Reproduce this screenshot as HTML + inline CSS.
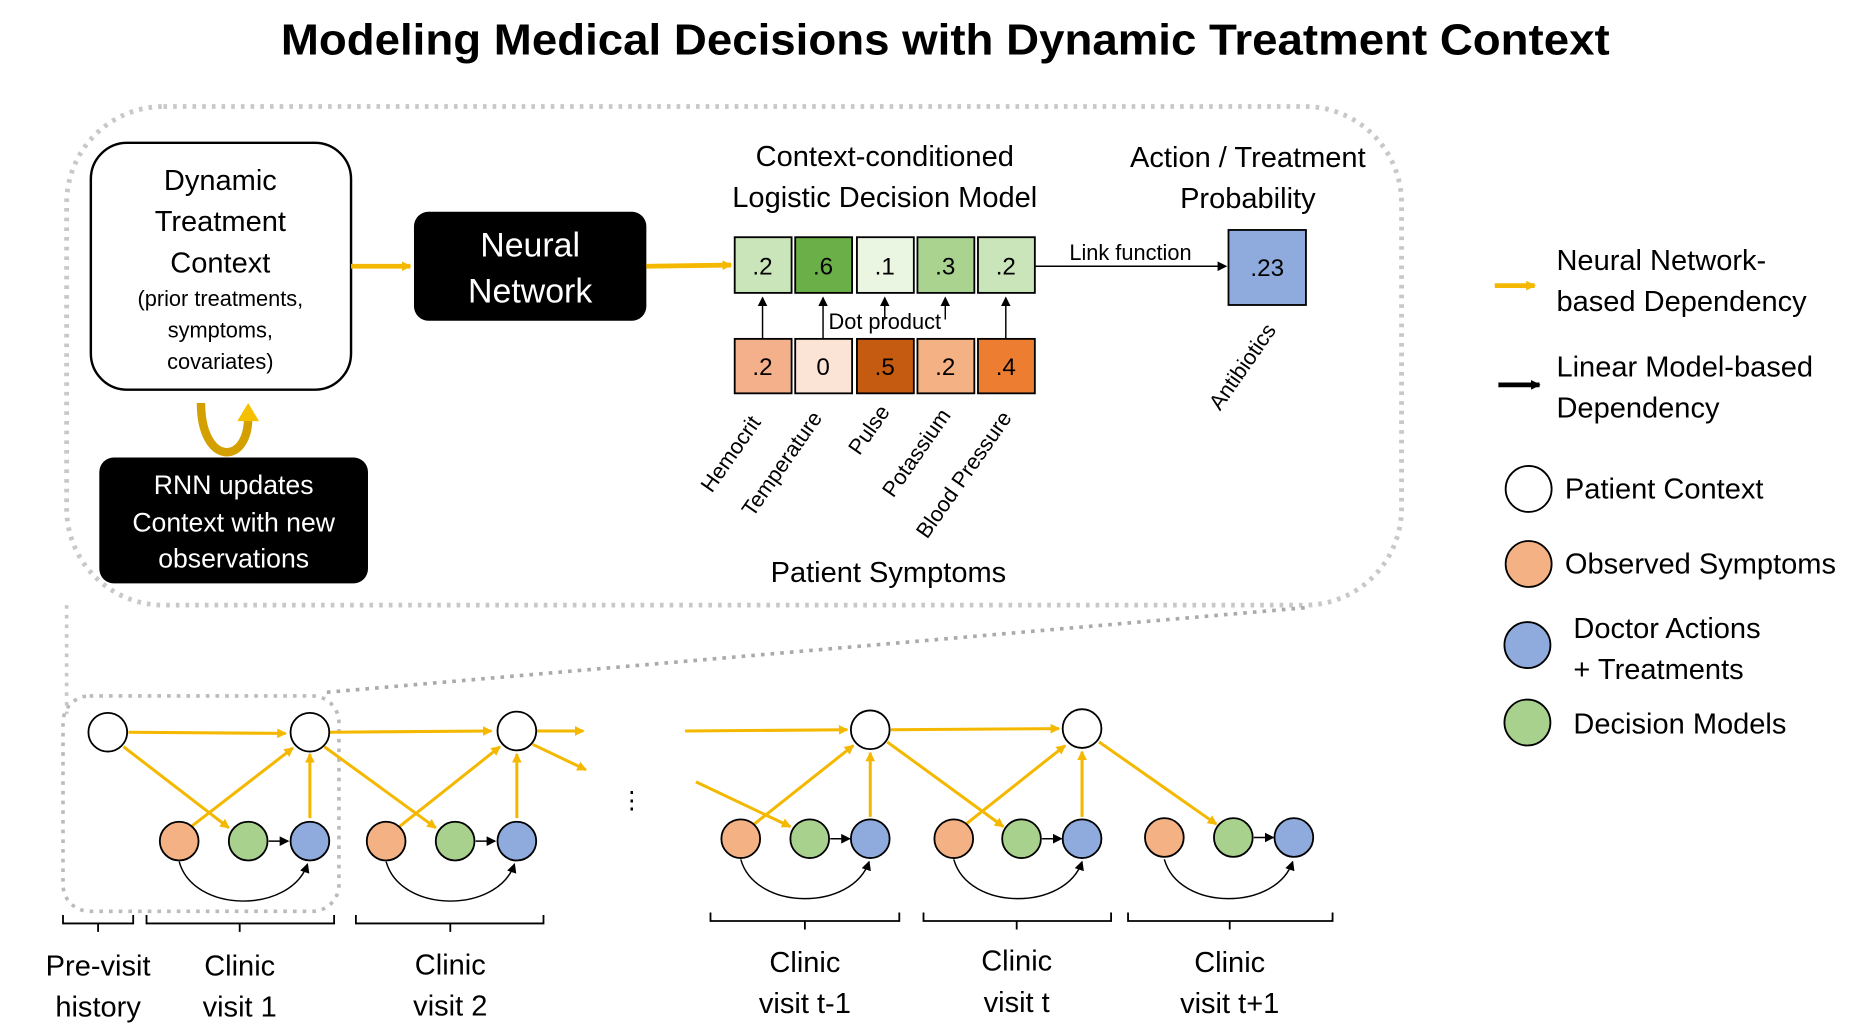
<!DOCTYPE html>
<html><head><meta charset="utf-8"><style>
html,body{margin:0;padding:0;background:#fff;}
svg{display:block;}
text{font-family:"Liberation Sans",sans-serif;fill:#000;}
</style></head><body>
<svg width="1870" height="1028" viewBox="0 0 1545 849.4" xmlns="http://www.w3.org/2000/svg">
<defs>
<marker id="ya" markerWidth="8" markerHeight="8" refX="7" refY="4" orient="auto" markerUnits="userSpaceOnUse"><path d="M0,0 L8,4 L0,8 z" fill="#f5b800"/></marker>
<marker id="ba" markerWidth="8" markerHeight="8" refX="7" refY="4" orient="auto" markerUnits="userSpaceOnUse"><path d="M0,0 L8,4 L0,8 z" fill="#000"/></marker>
</defs>
<text x="781" y="45" font-size="36" font-weight="bold" text-anchor="middle" textLength="1098" lengthAdjust="spacingAndGlyphs">Modeling Medical Decisions with Dynamic Treatment Context</text>

<rect x="55" y="88" width="1103" height="412" rx="80" fill="none" stroke="#c8c8c8" stroke-width="4" stroke-dasharray="3,5"/>
<line x1="55" y1="500" x2="55" y2="590" stroke="#c8c8c8" stroke-width="3" stroke-dasharray="3,5"/>
<line x1="270" y1="572" x2="1080" y2="502" stroke="#aaa" stroke-width="3" stroke-dasharray="3,5"/>

<rect x="75" y="118" width="215" height="204" rx="30" fill="#fff" stroke="#000" stroke-width="2"/>
<g font-size="24" text-anchor="middle"><text x="182" y="157">Dynamic</text><text x="182" y="191">Treatment</text><text x="182" y="225">Context</text></g>
<g font-size="18" text-anchor="middle"><text x="182" y="253">(prior treatments,</text><text x="182" y="279">symptoms,</text><text x="182" y="305">covariates)</text></g>

<rect x="342" y="175" width="192" height="90" rx="12" fill="#000"/>
<text x="438" y="212" font-size="28" text-anchor="middle" style="fill:#fff">Neural</text>
<text x="438" y="250" font-size="28" text-anchor="middle" style="fill:#fff">Network</text>
<line x1="290" y1="220" x2="339" y2="220" stroke="#f5b800" stroke-width="4" marker-end="url(#ya)"/>
<line x1="534" y1="220" x2="604" y2="219" stroke="#f5b800" stroke-width="4" marker-end="url(#ya)"/>

<rect x="82" y="378" width="222" height="104" rx="12" fill="#000"/>
<g font-size="22" text-anchor="middle" style="fill:#fff"><text x="193" y="408" style="fill:#fff">RNN updates</text><text x="193" y="439" style="fill:#fff">Context with new</text><text x="193" y="469" style="fill:#fff">observations</text></g>
<path d="M166,333 C166,385 205,385 205,345" fill="none" stroke="#d4a000" stroke-width="7"/>
<path d="M196,348 L205,333 L214,348 z" fill="#f5c000"/>

<text x="731" y="137" font-size="24" text-anchor="middle">Context-conditioned</text>
<text x="731" y="171" font-size="24" text-anchor="middle">Logistic Decision Model</text>
<text x="1031" y="138" font-size="24" text-anchor="middle">Action / Treatment</text>
<text x="1031" y="172" font-size="24" text-anchor="middle">Probability</text>

<g stroke="#000" stroke-width="1.5" font-size="20">
<rect x="607" y="196" width="47" height="46" fill="#c9e5b9"/>
<rect x="657" y="196" width="47" height="46" fill="#6aaf47"/>
<rect x="708" y="196" width="47" height="46" fill="#eaf5e2"/>
<rect x="758" y="196" width="47" height="46" fill="#a9d38f"/>
<rect x="808" y="196" width="47" height="46" fill="#c9e5b9"/>
<rect x="607" y="280" width="47" height="45" fill="#f3b08a"/>
<rect x="657" y="280" width="47" height="45" fill="#fbe3d5"/>
<rect x="708" y="280" width="47" height="45" fill="#c55a11"/>
<rect x="758" y="280" width="47" height="45" fill="#f4b183"/>
<rect x="808" y="280" width="47" height="45" fill="#ed7d31"/>
<rect x="1015" y="190" width="64" height="62" fill="#8faadc"/>
</g>
<g font-size="20" text-anchor="middle">
<text x="630" y="227">.2</text><text x="680" y="227">.6</text><text x="731" y="227">.1</text><text x="781" y="227">.3</text><text x="831" y="227">.2</text>
<text x="630" y="310">.2</text><text x="680" y="310">0</text><text x="731" y="310">.5</text><text x="781" y="310">.2</text><text x="831" y="310">.4</text>
<text x="1047" y="228">.23</text>
</g>
<g stroke="#000" stroke-width="1.2">
<line x1="630" y1="280" x2="630" y2="246" marker-end="url(#ba)"/>
<line x1="680" y1="280" x2="680" y2="246" marker-end="url(#ba)"/>
<line x1="731" y1="264" x2="731" y2="246" marker-end="url(#ba)"/>
<line x1="781" y1="264" x2="781" y2="246" marker-end="url(#ba)"/>
<line x1="831" y1="280" x2="831" y2="246" marker-end="url(#ba)"/>
<line x1="855" y1="220" x2="1013" y2="220" marker-end="url(#ba)"/>
</g>
<text x="731" y="272" font-size="18" text-anchor="middle">Dot product</text>
<text x="934" y="215" font-size="18" text-anchor="middle">Link function</text>
<g font-size="18">
<text transform="translate(588,408) rotate(-55)">Hemocrit</text>
<text transform="translate(622,428) rotate(-55)">Temperature</text>
<text transform="translate(710,377) rotate(-55)">Pulse</text>
<text transform="translate(738,412) rotate(-55)">Potassium</text>
<text transform="translate(766,446) rotate(-55)">Blood Pressure</text>
<text transform="translate(1008,340) rotate(-55)">Antibiotics</text>
</g>
<text x="734" y="481" font-size="24" text-anchor="middle">Patient Symptoms</text>

<!-- legend -->
<line x1="1235" y1="236" x2="1268" y2="236" stroke="#f5b800" stroke-width="4" marker-end="url(#ya)"/>
<text x="1286" y="223" font-size="24">Neural Network-</text><text x="1286" y="257" font-size="24">based Dependency</text>
<line x1="1238" y1="318" x2="1272" y2="318" stroke="#000" stroke-width="4" marker-end="url(#ba)"/>
<text x="1286" y="311" font-size="24">Linear Model-based</text><text x="1286" y="345" font-size="24">Dependency</text>
<circle cx="1263" cy="404" r="19" fill="#fff" stroke="#000" stroke-width="1.5"/><text x="1293" y="412" font-size="24">Patient Context</text>
<circle cx="1263" cy="466" r="19" fill="#f4b183" stroke="#000" stroke-width="1.5"/><text x="1293" y="474" font-size="24">Observed Symptoms</text>
<circle cx="1262" cy="533" r="19" fill="#8faadc" stroke="#000" stroke-width="1.5"/><text x="1300" y="527" font-size="24">Doctor Actions</text><text x="1300" y="561" font-size="24">+ Treatments</text>
<circle cx="1262" cy="597" r="19" fill="#a9d18e" stroke="#000" stroke-width="1.5"/><text x="1300" y="606" font-size="24">Decision Models</text>

<!-- bottom graph -->
<rect x="52" y="575" width="228" height="178" rx="22" fill="none" stroke="#bbb" stroke-width="3" stroke-dasharray="3,5"/>
<g stroke="#f5b800" stroke-width="2.5" fill="none">
<line x1="106" y1="605" x2="236" y2="606" marker-end="url(#ya)"/>
<line x1="102" y1="617" x2="189" y2="684" marker-end="url(#ya)"/>
<line x1="158" y1="683" x2="242" y2="618" marker-end="url(#ya)"/>
<line x1="256" y1="676" x2="256" y2="623" marker-end="url(#ya)"/>
<line x1="272" y1="605" x2="406" y2="604" marker-end="url(#ya)"/>
<line x1="268" y1="617" x2="360" y2="684" marker-end="url(#ya)"/>
<line x1="330" y1="683" x2="413" y2="617" marker-end="url(#ya)"/>
<line x1="427" y1="676" x2="427" y2="623" marker-end="url(#ya)"/>
<line x1="443" y1="604" x2="482" y2="604" marker-end="url(#ya)"/>
<line x1="440" y1="615" x2="484" y2="636" marker-end="url(#ya)"/>
<line x1="566" y1="604" x2="700" y2="603" marker-end="url(#ya)"/>
<line x1="575" y1="646" x2="653" y2="683" marker-end="url(#ya)"/>
<line x1="623" y1="681" x2="705" y2="616" marker-end="url(#ya)"/>
<line x1="719" y1="675" x2="719" y2="622" marker-end="url(#ya)"/>
<line x1="736" y1="603" x2="875" y2="602" marker-end="url(#ya)"/>
<line x1="733" y1="613" x2="829" y2="683" marker-end="url(#ya)"/>
<line x1="798" y1="681" x2="880" y2="616" marker-end="url(#ya)"/>
<line x1="894" y1="675" x2="894" y2="621" marker-end="url(#ya)"/>
<line x1="908" y1="613" x2="1005" y2="681" marker-end="url(#ya)"/>
</g>
<g stroke="#000" stroke-width="1.2" fill="none">
<path d="M148,712 C160,755 240,755 254,714" marker-end="url(#ba)"/>
<path d="M319,712 C331,755 411,755 425,714" marker-end="url(#ba)"/>
<path d="M612,710 C624,753 704,753 718,712" marker-end="url(#ba)"/>
<path d="M788,710 C800,753 880,753 894,712" marker-end="url(#ba)"/>
<path d="M962,710 C974,753 1054,753 1068,712" marker-end="url(#ba)"/>
<line x1="222" y1="695" x2="238" y2="695" marker-end="url(#ba)"/>
<line x1="393" y1="695" x2="409" y2="695" marker-end="url(#ba)"/>
<line x1="686" y1="693" x2="702" y2="693" marker-end="url(#ba)"/>
<line x1="861" y1="693" x2="877" y2="693" marker-end="url(#ba)"/>
<line x1="1036" y1="692" x2="1052" y2="692" marker-end="url(#ba)"/>
</g>
<g stroke="#000" stroke-width="1.5">
<circle cx="89" cy="605" r="16" fill="#fff"/><circle cx="256" cy="605" r="16" fill="#fff"/><circle cx="427" cy="604" r="16" fill="#fff"/><circle cx="719" cy="603" r="16" fill="#fff"/><circle cx="894" cy="602" r="16" fill="#fff"/>
<circle cx="148" cy="695" r="16" fill="#f4b183"/><circle cx="205" cy="695" r="16" fill="#a9d18e"/><circle cx="256" cy="695" r="16" fill="#8faadc"/>
<circle cx="319" cy="695" r="16" fill="#f4b183"/><circle cx="376" cy="695" r="16" fill="#a9d18e"/><circle cx="427" cy="695" r="16" fill="#8faadc"/>
<circle cx="612" cy="693" r="16" fill="#f4b183"/><circle cx="669" cy="693" r="16" fill="#a9d18e"/><circle cx="719" cy="693" r="16" fill="#8faadc"/>
<circle cx="788" cy="693" r="16" fill="#f4b183"/><circle cx="844" cy="693" r="16" fill="#a9d18e"/><circle cx="894" cy="693" r="16" fill="#8faadc"/>
<circle cx="962" cy="692" r="16" fill="#f4b183"/><circle cx="1019" cy="692" r="16" fill="#a9d18e"/><circle cx="1069" cy="692" r="16" fill="#8faadc"/>
</g>
<text x="522" y="668" font-size="20" text-anchor="middle">⋮</text>
<g stroke="#000" stroke-width="1.5" fill="none">
<path d="M52,756 V763 H110 V756 M81,763 V770"/>
<path d="M121,756 V763 H276 V756 M198,763 V770"/>
<path d="M294,756 V763 H449 V756 M372,763 V770"/>
<path d="M587,754 V761 H743 V754 M665,761 V768"/>
<path d="M763,754 V761 H918 V754 M840,761 V768"/>
<path d="M932,754 V761 H1101 V754 M1016,761 V768"/>
</g>
<g font-size="24" text-anchor="middle">
<text x="81" y="806">Pre-visit</text><text x="81" y="840">history</text>
<text x="198" y="806">Clinic</text><text x="198" y="840">visit 1</text>
<text x="372" y="805">Clinic</text><text x="372" y="839">visit 2</text>
<text x="665" y="803">Clinic</text><text x="665" y="837">visit t-1</text>
<text x="840" y="802">Clinic</text><text x="840" y="836">visit t</text>
<text x="1016" y="803">Clinic</text><text x="1016" y="837">visit t+1</text>
</g>
</svg>
</body></html>
